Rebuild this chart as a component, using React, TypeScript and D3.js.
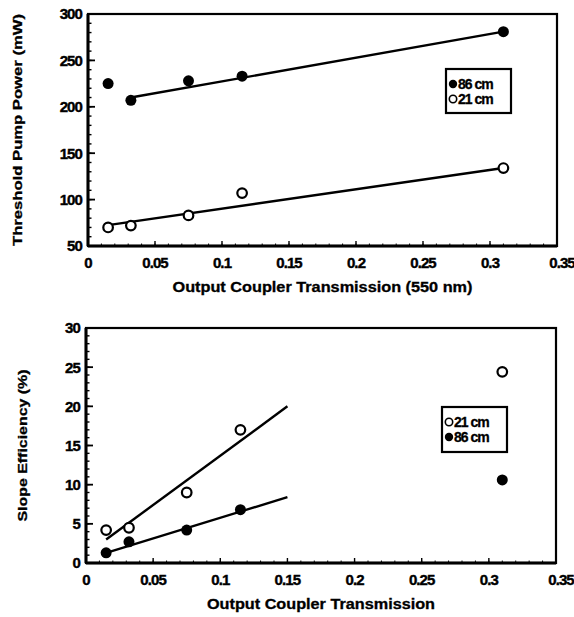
import React from "react";
import * as d3 from "d3";

// ---- Data ----
const transmission = [0.015, 0.032, 0.075, 0.115, 0.31];
const threshold86 = [225, 207, 228, 233, 281];
const threshold21 = [70, 72, 83, 107, 134];
const slope21 = [4.2, 4.5, 9.0, 17.0, 24.4];
const slope86 = [1.3, 2.7, 4.2, 6.8, 10.6];

// fitted lines (data units)
const fitThr86X = [0.034, 0.31];
const fitThr86Y = [210.5, 281];
const fitThr21X = [0.015, 0.31];
const fitThr21Y = [72.5, 134];
const fitSlope21X = [0.015, 0.15];
const fitSlope21Y = [3.0, 20.0];
const fitSlope86X = [0.015, 0.15];
const fitSlope86Y = [1.3, 8.4];

const xTicks = [0, 0.05, 0.1, 0.15, 0.2, 0.25, 0.3, 0.35];
const xTickLabels = ["0", "0.05", "0.1", "0.15", "0.2", "0.25", "0.3", "0.35"];
const thrTicks = [50, 100, 150, 200, 250, 300];
const slopeTicks = [0, 5, 10, 15, 20, 25, 30];

const FONT = "'Liberation Sans', Arial, sans-serif";

type Series = { x: number[]; y: number[]; filled: boolean; fitX: number[]; fitY: number[] };

function Panel(props: {
  left: number; right: number; top: number; bottom: number;
  yDomain: [number, number]; yTicks: number[]; yMinorStep: number;
  series: Series[]; yTitle: string; xTitle: string; xTitleWidth: number; yTitleWidth: number;
  yTitleX: number; legend: { label: string; filled: boolean }[];
  legendBox: [number, number, number, number];
}) {
  const { left, right, top, bottom } = props;
  const x = d3.scaleLinear().domain([0, 0.35]).range([left, right]);
  const y = d3.scaleLinear().domain(props.yDomain).range([bottom, top]);
  const minorX = d3.range(0, 0.3501, 0.01);
  const minorY = d3.range(props.yDomain[0], props.yDomain[1] + 1e-6, props.yMinorStep);
  const line = d3.line<[number, number]>().x((d) => x(d[0])).y((d) => y(d[1]));
  const [lx, ly, lw, lh] = props.legendBox;
  return (
    <g fontFamily={FONT} fontWeight="bold">
      {/* minor ticks */}
      {minorY.map((v, i) => (
        <line key={"my" + i} x1={left} x2={left + 3.5} y1={y(v)} y2={y(v)} stroke="#000" strokeWidth={1.4} />
      ))}
      {minorX.map((v, i) => (
        <line key={"mx" + i} x1={x(v)} x2={x(v)} y1={bottom} y2={bottom - 2.5} stroke="#000" strokeWidth={1} />
      ))}
      {props.yTicks.map((v, i) => (
        <line key={"ty" + i} x1={left} x2={left + 7} y1={y(v)} y2={y(v)} stroke="#000" strokeWidth={1.8} />
      ))}
      {xTicks.map((v, i) => (
        <line key={"tx" + i} x1={x(v)} x2={x(v)} y1={bottom} y2={bottom - 5} stroke="#000" strokeWidth={1.4} />
      ))}
      {/* frame */}
      <rect x={left} y={top} width={right - left} height={bottom - top} fill="none" stroke="#000" strokeWidth={2.2} />
      <line x1={left} x2={left} y1={top} y2={bottom} stroke="#000" strokeWidth={3} />
      <line x1={left} x2={right} y1={bottom} y2={bottom} stroke="#000" strokeWidth={3} />
      {/* tick labels */}
      {props.yTicks.map((v, i) => (
        <text key={"ly" + i} x={left - 6} y={y(v)} dy="0.36em" textAnchor="end" fontSize={15} letterSpacing={-0.9}
          stroke="#000" strokeWidth={0.4}>
          {v}
        </text>
      ))}
      {xTicks.map((v, i) => (
        <text key={"lx" + i} x={x(v) + (i === 7 ? 5 : 0)} y={bottom + 22} textAnchor="middle" fontSize={15} letterSpacing={-0.9}
          stroke="#000" strokeWidth={0.4}>
          {xTickLabels[i]}
        </text>
      ))}
      {/* titles */}
      <text x={(left + right) / 2} y={bottom + 46} textAnchor="middle" fontSize={14}
        textLength={props.xTitleWidth} lengthAdjust="spacingAndGlyphs" stroke="#000" strokeWidth={0.3}>
        {props.xTitle}
      </text>
      <text transform={`translate(${props.yTitleX},${(top + bottom) / 2}) rotate(-90)`} textAnchor="middle" fontSize={13}
        textLength={props.yTitleWidth} lengthAdjust="spacingAndGlyphs" dy="0.35em" stroke="#000" strokeWidth={0.3}>
        {props.yTitle}
      </text>
      {/* fit lines */}
      {props.series.map((s, i) => (
        <path key={"fit" + i} d={line(s.fitX.map((v, j) => [v, s.fitY[j]]) as [number, number][]) || ""}
          fill="none" stroke="#000" strokeWidth={2.4} />
      ))}
      {/* points */}
      {props.series.map((s, i) =>
        s.x.map((v, j) => (
          <circle key={"p" + i + "-" + j} cx={x(v)} cy={y(s.y[j])} r={s.filled ? 5.5 : 4.8}
            fill={s.filled ? "#000" : "#fff"} stroke="#000" strokeWidth={s.filled ? 0 : 2.2} />
        ))
      )}
      {/* legend */}
      <rect x={lx} y={ly} width={lw} height={lh} fill="#fff" stroke="#000" strokeWidth={2.2} />
      {props.legend.map((l, i) => (
        <g key={"lg" + i}>
          <circle cx={lx + 7} cy={ly + 15 + i * 15} r={l.filled ? 4.2 : 3.7} fill={l.filled ? "#000" : "#fff"}
            stroke="#000" strokeWidth={l.filled ? 0 : 1.6} />
          <text x={lx + 12} y={ly + 15 + i * 15} dy="0.36em" fontSize={14} letterSpacing={-1}
            stroke="#000" strokeWidth={0.3}>
            {l.label}
          </text>
        </g>
      ))}
    </g>
  );
}

export default function App() {
  return (
    <svg width={574} height={617} style={{ position: "absolute", left: 0, top: 0, background: "#fff" }}>
      <rect x={0} y={0} width={574} height={617} fill="#fff" />
      <Panel
        left={88} right={557} top={14} bottom={246}
        yDomain={[50, 300]} yTicks={thrTicks} yMinorStep={10}
        series={[
          { x: transmission, y: threshold86, filled: true, fitX: fitThr86X, fitY: fitThr86Y },
          { x: transmission, y: threshold21, filled: false, fitX: fitThr21X, fitY: fitThr21Y },
        ]}
        yTitle="Threshold Pump Power (mW)" yTitleX={17} yTitleWidth={232}
        xTitle="Output Coupler Transmission (550 nm)" xTitleWidth={300}
        legend={[{ label: "86 cm", filled: true }, { label: "21 cm", filled: false }]}
        legendBox={[446, 69, 65, 44]}
      />
      <Panel
        left={86} right={556} top={328} bottom={563}
        yDomain={[0, 30]} yTicks={slopeTicks} yMinorStep={1}
        series={[
          { x: transmission, y: slope21, filled: false, fitX: fitSlope21X, fitY: fitSlope21Y },
          { x: transmission, y: slope86, filled: true, fitX: fitSlope86X, fitY: fitSlope86Y },
        ]}
        yTitle="Slope Efficiency (%)" yTitleX={22} yTitleWidth={152}
        xTitle="Output Coupler Transmission" xTitleWidth={228}
        legend={[{ label: "21 cm", filled: false }, { label: "86 cm", filled: true }]}
        legendBox={[442, 407, 65, 45]}
      />
    </svg>
  );
}
